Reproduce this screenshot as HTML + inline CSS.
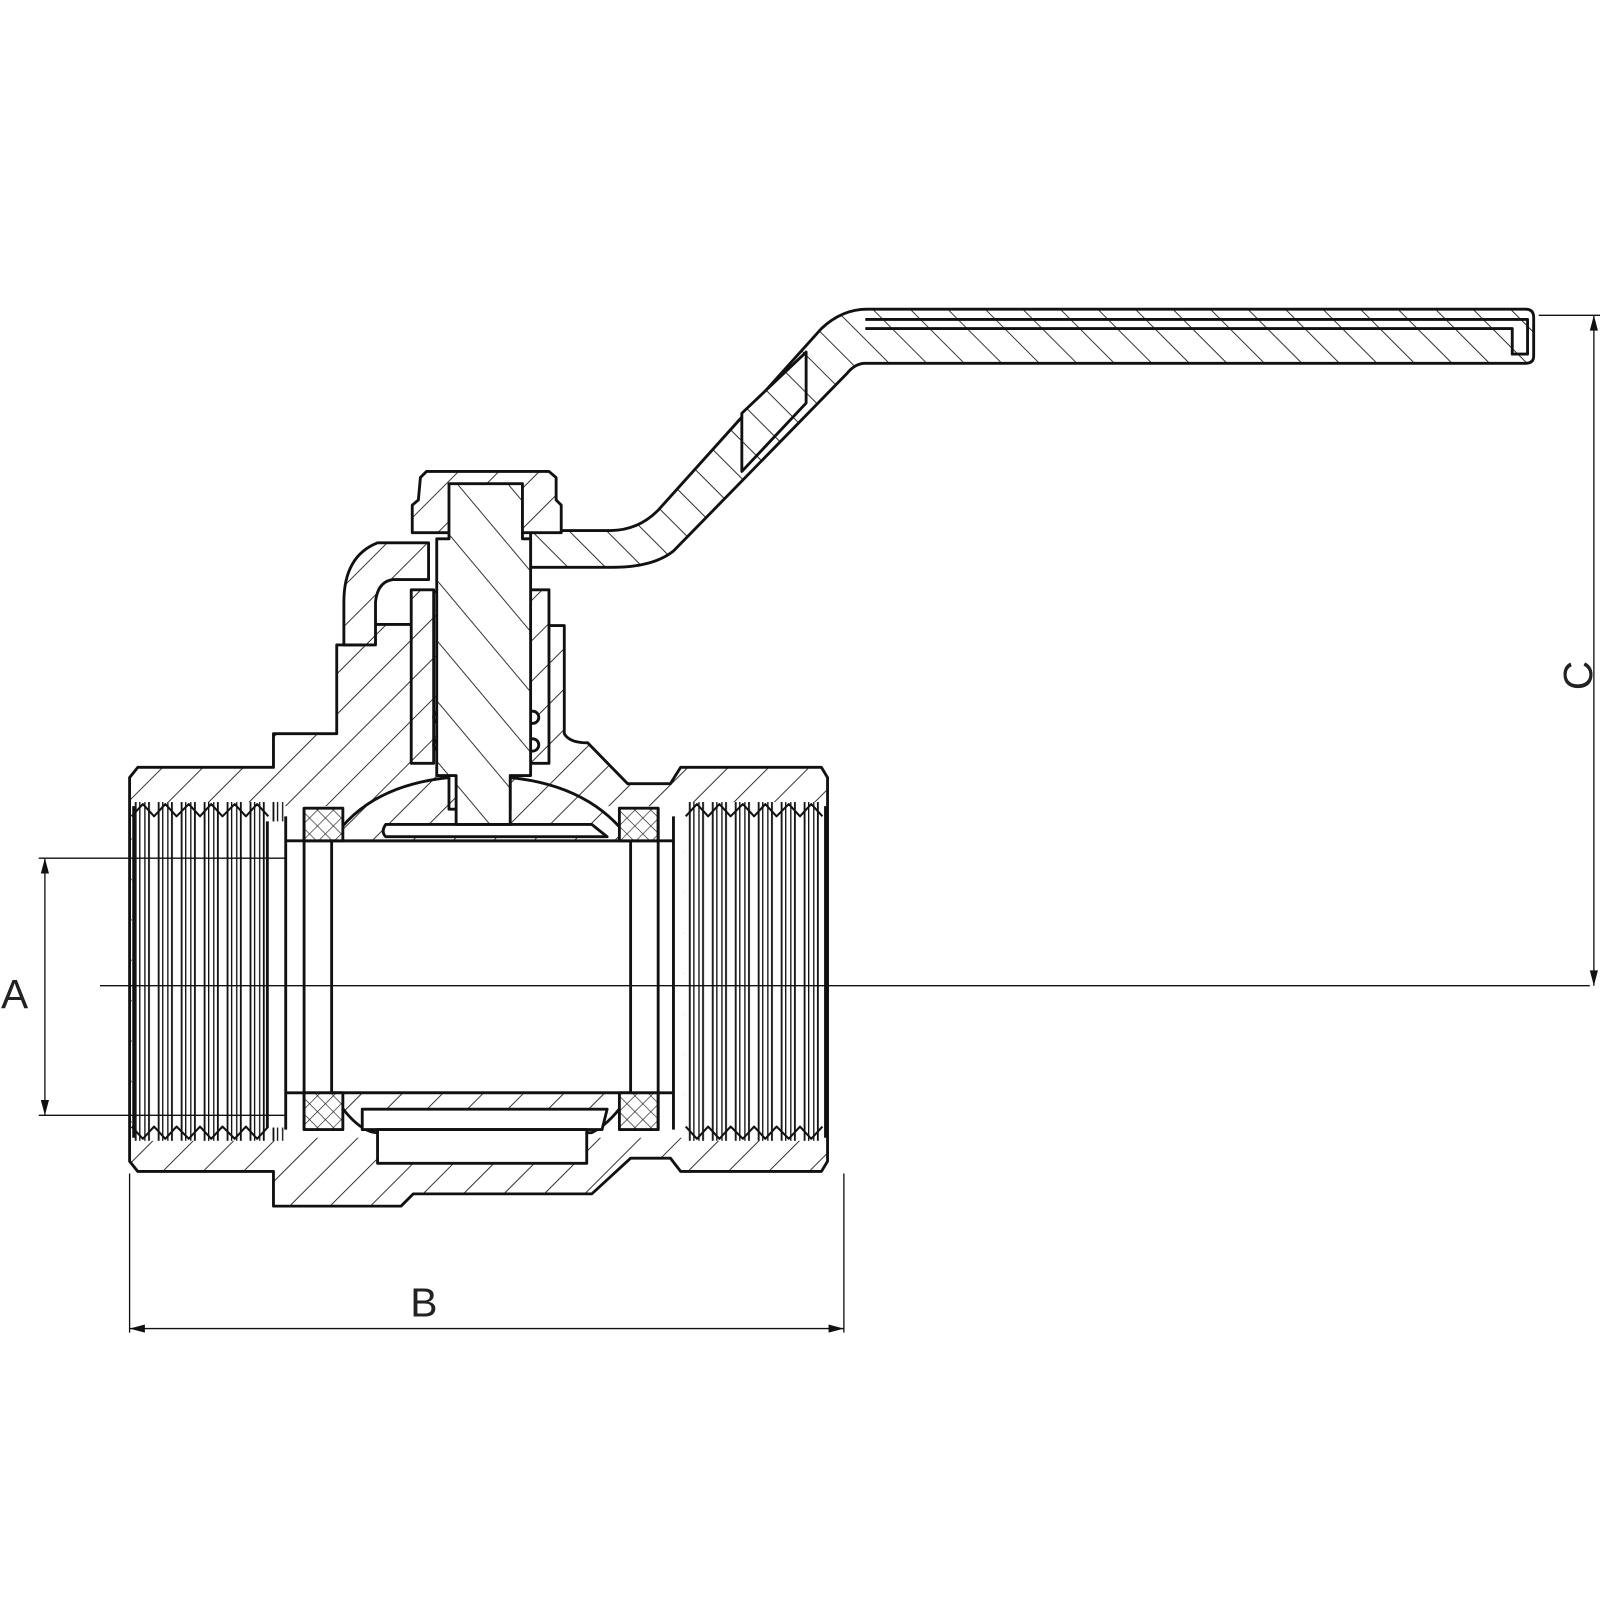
<!DOCTYPE html>
<html><head><style>html,body{margin:0;padding:0;background:#fff}svg{display:block}</style></head>
<body>
<svg width="1600" height="1600" viewBox="0 0 1568 1568" xmlns="http://www.w3.org/2000/svg">
<defs>
<pattern id="h" patternUnits="userSpaceOnUse" width="28" height="28" patternTransform="rotate(45)">
<rect width="28" height="28" fill="#fff"/><line x1="0" y1="0" x2="0" y2="28" stroke="#222" stroke-width="1.8"/></pattern>
<pattern id="h2" patternUnits="userSpaceOnUse" width="26" height="26" patternTransform="rotate(-45)">
<rect width="26" height="26" fill="#fff"/><line x1="0" y1="0" x2="0" y2="26" stroke="#222" stroke-width="1.8"/></pattern>
<pattern id="hs" patternUnits="userSpaceOnUse" width="38" height="38" patternTransform="rotate(-40)">
<rect width="38" height="38" fill="#fff"/><line x1="0" y1="0" x2="0" y2="38" stroke="#222" stroke-width="1.8"/></pattern>
<pattern id="x" patternUnits="userSpaceOnUse" width="11" height="11" patternTransform="rotate(45)">
<rect width="11" height="11" fill="#fff"/><line x1="0" y1="0" x2="0" y2="11" stroke="#222" stroke-width="1.3"/><line x1="0" y1="0" x2="11" y2="0" stroke="#222" stroke-width="1.3"/></pattern>
<pattern id="tl" patternUnits="userSpaceOnUse" x="129" y="0" width="22.5" height="10">
<rect width="22.5" height="10" fill="#fff"/>
<line x1="4" y1="0" x2="4" y2="10" stroke="#111" stroke-width="1.8"/>
<line x1="8" y1="0" x2="8" y2="10" stroke="#111" stroke-width="1.3"/>
<line x1="13" y1="0" x2="13" y2="10" stroke="#111" stroke-width="1.3"/>
<line x1="17" y1="0" x2="17" y2="10" stroke="#111" stroke-width="1.8"/></pattern>
<pattern id="tr" patternUnits="userSpaceOnUse" x="672" y="0" width="22.5" height="10">
<rect width="22.5" height="10" fill="#fff"/>
<line x1="4" y1="0" x2="4" y2="10" stroke="#111" stroke-width="1.8"/>
<line x1="8" y1="0" x2="8" y2="10" stroke="#111" stroke-width="1.3"/>
<line x1="13" y1="0" x2="13" y2="10" stroke="#111" stroke-width="1.3"/>
<line x1="17" y1="0" x2="17" y2="10" stroke="#111" stroke-width="1.8"/></pattern>
</defs>
<g stroke="#111" stroke-width="2.8" fill="none" stroke-linejoin="round">
<!-- handle -->
<path fill="url(#h2)" d="M520,520 L598,520 Q625,520 645,500 L805,322 Q825,303 850,303 L1495,303 Q1503,303 1503,311 L1503,349 Q1503,356 1495,356 L848,356 Q838,356 830,366 L660,540 Q640,556 600,556 L520,556 Z"/>
<path d="M848,313 L1497,313 L1497,347 L1482,347 L1482,322 L848,322"/>
<path fill="url(#h2)" d="M727,405 L790,345 L790,395 L727,462 Z"/>
<!-- body -->
<path fill="url(#h)" d="M127,762 L135,752 L268,752 L268,719 L330,719 L330,632 L355,632 L355,612 L410,612 L410,580 L530,580 L530,613 L553,613 L553,719 Q558,728 576,728 L615,768 L657,768 L667,752 L805,752 L811,762 L811,1138 L805,1148 L667,1148 L657,1135 L618,1135 L580,1170 L405,1170 L393,1182 L268,1182 L268,1148 L135,1148 L127,1138 Z"/>
<!-- collar -->
<path fill="url(#h)" d="M370,532 L420,532 L420,568 L385,568 Q370,570 368,590 L368,632 L337,632 L337,590 Q337,545 370,532 Z"/>
<!-- thread cavities -->
<rect x="129" y="786" width="149" height="332" fill="url(#tl)" stroke="none"/>
<rect x="670" y="786" width="139" height="332" fill="url(#tr)" stroke="none"/>
<rect x="262" y="805" width="16" height="300" fill="#fff" stroke="none"/>
<line x1="262" y1="805" x2="262" y2="1105"/>
<rect x="278" y="790" width="392" height="325" fill="#fff" stroke="none"/>
<!-- bore -->
<line x1="280" y1="824" x2="660" y2="824"/><line x1="280" y1="1071" x2="660" y2="1071"/>
<!-- ball -->
<path fill="url(#h)" d="M325,824 Q360,770 440,762 L440,793 L500,793 L500,762 Q580,770 618,824 Z"/>
<path fill="url(#h)" d="M325,1071 Q350,1110 370,1110 L580,1110 Q600,1100 618,1071 Z"/>
<path fill="#fff" d="M378,808 Q373,815 378,820 L595,820 L580,808 Z"/>
<path fill="#fff" d="M355,1087 L595,1087 L590,1107 L355,1107 Z"/>
<line x1="325" y1="824" x2="325" y2="1071"/><line x1="618" y1="824" x2="618" y2="1071"/>
<!-- seats -->
<rect x="298" y="792" width="38" height="32" fill="url(#x)"/>
<rect x="298" y="1071" width="38" height="36" fill="url(#x)"/>
<rect x="607" y="792" width="38" height="32" fill="url(#x)"/>
<rect x="607" y="1071" width="38" height="36" fill="url(#x)"/>
<line x1="298" y1="792" x2="298" y2="1107"/><line x1="645" y1="792" x2="645" y2="1107"/>
<rect x="370" y="1107" width="205" height="33" fill="#fff"/>
<line x1="280" y1="800" x2="280" y2="1107"/><line x1="660" y1="800" x2="660" y2="1107"/>
<!-- thread zigzags -->
<path stroke-width="2" d="M129,800 L140,788 L151,800 L162,788 L173,800 L185,788 L196,800 L207,788 L218,800 L230,788 L241,800 L252,788 L263,800"/>
<path stroke-width="2" d="M129,1104 L140,1116 L151,1104 L162,1116 L173,1104 L185,1116 L196,1104 L207,1116 L218,1104 L230,1116 L241,1104 L252,1116 L263,1104"/>
<path stroke-width="2" d="M672,800 L683,788 L694,800 L705,788 L716,800 L728,788 L739,800 L750,788 L761,800 L773,788 L784,800 L795,788 L806,800"/>
<path stroke-width="2" d="M672,1104 L683,1116 L694,1104 L705,1116 L716,1104 L728,1116 L739,1104 L750,1116 L761,1104 L773,1116 L784,1104 L795,1116 L806,1104"/>
<line x1="131" y1="790" x2="131" y2="1115"/><line x1="809" y1="790" x2="809" y2="1115"/>
<!-- packing gland -->
<rect x="403" y="578" width="22" height="170" fill="url(#h)"/>
<rect x="516" y="578" width="22" height="170" fill="url(#h)"/>
<circle cx="431" cy="703" r="6" fill="#fff"/><circle cx="431" cy="730" r="6" fill="#fff"/>
<circle cx="522" cy="703" r="6" fill="#fff"/><circle cx="522" cy="730" r="6" fill="#fff"/>
<!-- nut -->
<path fill="url(#h)" d="M412,468 L418,462 L538,462 L545,468 L545,490 L550,495 L550,522 L404,522 L404,495 L410,490 Z"/>
<!-- stem -->
<path fill="url(#hs)" d="M440,474 L512,474 L512,528 L520,528 L520,760 L500,760 L500,808 L447,808 L447,760 L428,760 L428,528 L440,528 Z"/>
</g>
<!-- dimensions -->
<g stroke="#111" stroke-width="1.3" fill="#111">
<line x1="98" y1="966" x2="1558" y2="966"/>
<line x1="38" y1="841" x2="280" y2="841"/><line x1="38" y1="1093" x2="280" y2="1093"/>
<line x1="44" y1="841" x2="44" y2="1093"/>
<path d="M44,841 L40,856 L48,856Z M44,1093 L40,1078 L48,1078Z" stroke="none"/>
<line x1="1508" y1="309" x2="1568" y2="309"/>
<line x1="1562" y1="309" x2="1562" y2="966"/>
<path d="M1562,309 L1558,324 L1566,324Z M1562,966 L1558,951 L1566,951Z" stroke="none"/>
<line x1="127" y1="1150" x2="127" y2="1306"/><line x1="827" y1="1150" x2="827" y2="1306"/>
<line x1="127" y1="1302" x2="827" y2="1302"/>
<path d="M127,1302 L142,1298 L142,1306Z M827,1302 L812,1298 L812,1306Z" stroke="none"/>
</g>
<g font-family="Liberation Sans, sans-serif" font-size="40" fill="#222">
<text x="1" y="988">A</text>
<text x="402" y="1290">B</text>
<text transform="translate(1560,662) rotate(-90)" text-anchor="middle">C</text>
</g>
</svg>
</body></html>
